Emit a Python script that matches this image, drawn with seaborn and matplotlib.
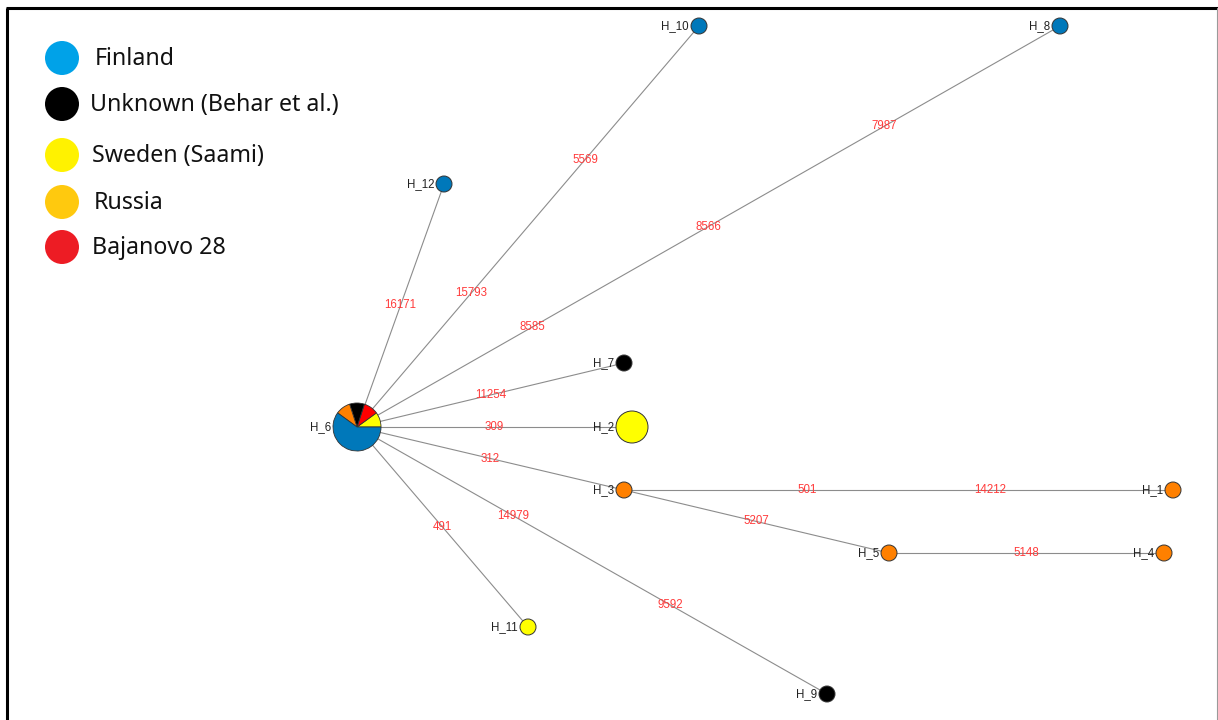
#--------------------------------------------
# Haplotype network (median-joining style)
# with mutation positions on the edges
#--------------------------------------------

import numpy as np
import pandas as pd
import matplotlib
matplotlib.use("Agg")
import matplotlib.pyplot as plt
import seaborn as sns

#--------------------DATA-----------------------

# node layout (pixel space, y down)
node_names = ['H_1', 'H_2', 'H_3', 'H_4', 'H_5', 'H_6', 'H_7', 'H_8',
              'H_9', 'H_10', 'H_11', 'H_12']
node_x = [1173, 632, 624, 1164, 889, 357, 624, 1060, 827, 699, 528, 444]
node_y = [490, 427, 490, 553, 553, 427, 363, 26, 694, 26, 627, 184]
node_group = ['Russia', 'Sweden (Saami)', 'Russia', 'Russia', 'Russia', 'mixed',
              'Unknown', 'Finland', 'Unknown', 'Finland', 'Sweden (Saami)', 'Finland']
node_count = [1, 2, 1, 1, 1, 10, 1, 1, 1, 1, 1, 1]

# composition of the central haplotype H_6
h6_groups = ['Sweden (Saami)', 'Bajanovo 28', 'Unknown', 'Russia', 'Finland']
h6_counts = [1, 1, 1, 1, 6]

# edges and the mutated positions along them
edge_from = ['H_6', 'H_6', 'H_6', 'H_6', 'H_6', 'H_6', 'H_3', 'H_3', 'H_5', 'H_6', 'H_6']
edge_to = ['H_12', 'H_10', 'H_8', 'H_7', 'H_2', 'H_3', 'H_1', 'H_5', 'H_4', 'H_11', 'H_9']
edge_mutations = [['16171'], ['15793', '5569'], ['8585', '8566', '7987'], ['11254'],
                  ['309'], ['312'], ['501', '14212'], ['5207'], ['5148'], ['491'],
                  ['14979', '9592']]

# legend (pasted key in the original)
legend_labels = ['Finland', 'Unknown (Behar et al.)', 'Sweden (Saami)', 'Russia', 'Bajanovo 28']

#--------------------STYLE----------------------

node_colors = {'Finland': '#0078BA', 'Unknown': '#000000', 'Sweden (Saami)': '#FFFF00',
               'Russia': '#FF8000', 'Bajanovo 28': '#FF0000'}
legend_colors = ['#00A2E8', '#000000', '#FFF200', '#FFC90E', '#ED1C24']
node_radius = {1: 8, 2: 16, 10: 24}   # px

#--------------------PLOT-----------------------

sns.set_theme(style="white")
plt.rcParams['font.family'] = ['Liberation Sans', 'DejaVu Sans']

W, H = 1218, 720
fig = plt.figure(figsize=(W / 100, H / 100), dpi=100)
ax = fig.add_axes([0, 0, 1, 1])

nodes = pd.DataFrame({'name': node_names, 'x': node_x, 'y': node_y,
                      'group': node_group, 'count': node_count})
nodes['r'] = nodes['count'].map(node_radius)
pos = nodes.set_index('name')[['x', 'y']]

# edges + mutation labels spread evenly along each edge
for a, b, muts in zip(edge_from, edge_to, edge_mutations):
    x0, y0 = pos.loc[a]
    x1, y1 = pos.loc[b]
    ax.plot([x0, x1], [y0, y1], color='#8c8c8c', lw=0.8, zorder=1)
    n = len(muts)
    for k, m in enumerate(muts, start=1):
        f = k / (n + 1)
        ax.text(x0 + f * (x1 - x0), y0 + f * (y1 - y0), m, color='#FF3B3B',
                fontsize=8.3, ha='center', va='center', zorder=2)

# plain nodes through seaborn (s in pt^2; 1 px = 0.72 pt at dpi 100)
plain = nodes[nodes['group'] != 'mixed'].copy()
plain['s'] = (2 * plain['r'] * 0.72) ** 2
sns.scatterplot(data=plain, x='x', y='y', hue='group', palette=node_colors,
                size='s', sizes=(plain['s'].min(), plain['s'].max()),
                edgecolor='#333333', linewidth=0.7, legend=False, ax=ax, zorder=3)

# central pie node
h6 = nodes[nodes['name'] == 'H_6'].iloc[0]
ax.pie(h6_counts, colors=[node_colors[g] for g in h6_groups],
       center=(h6['x'], h6['y']), radius=h6['r'], startangle=0,
       counterclock=False, frame=True,
       wedgeprops=dict(edgecolor='#333333', linewidth=0.6))

# node labels to the left of each node
for _, row in nodes.iterrows():
    ax.text(row['x'] - row['r'] - 2, row['y'], row['name'], fontsize=8.3,
            ha='right', va='center', color='#222222', zorder=4)

# legend key
leg = pd.DataFrame({'label': legend_labels, 'x': 62, 'y': [58, 104, 155, 202, 247]})
sns.scatterplot(data=leg, x='x', y='y', hue='label', palette=legend_colors,
                s=(34 * 0.72) ** 2, linewidth=0, legend=False, ax=ax, zorder=3)
for lab, yy, xx in zip(legend_labels, leg['y'], [95, 90, 92, 94, 92]):
    ax.text(xx, yy + 1, lab, fontsize=16.7, family=['Noto Sans', 'DejaVu Sans'],
            ha='left', va='center', color='#111111')

# frame of the pasted figure
ax.plot([7, 7], [8, H], color='black', lw=2.2, solid_capstyle='butt')
ax.plot([6, W], [8, 8], color='black', lw=2.2, solid_capstyle='butt')
ax.plot([1217, 1217], [8, H], color='#9a9a9a', lw=0.8)

ax.set_xlim(0, W)
ax.set_ylim(H, 0)
ax.set_aspect('auto')
ax.axis('off')

fig.savefig('out.png', dpi=100)
